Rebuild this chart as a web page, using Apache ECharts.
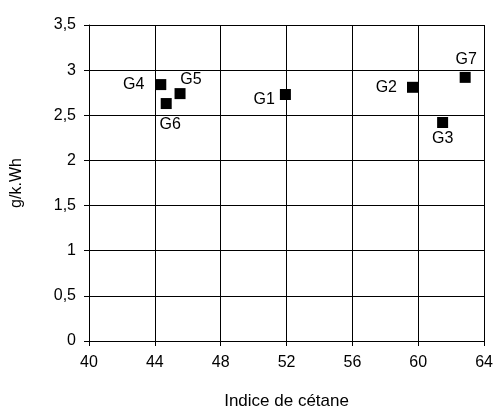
<!DOCTYPE html>
<html>
<head>
<meta charset="utf-8">
<script src="https://cdn.jsdelivr.net/npm/echarts@6/dist/echarts.min.js"></script>
<style>html,body{margin:0;padding:0;background:#fff}#c{width:496px;height:415px}</style>
</head>
<body>
<div id="c"></div>
<script>
var names = ['G1','G2','G3','G4','G5','G6','G7'];
var cetane = [51.93, 59.65, 61.48, 44.36, 45.53, 44.69, 62.85];
var emission = [2.73, 2.81, 2.42, 2.84, 2.74, 2.63, 2.92];
var xTicks = {min: 40, max: 64, interval: 4};
var yTicks = {min: 0, max: 3.5, interval: 0.5};

var labelPlacement = {
  G1: {position: 'left', distance: 5, offset: [0, 5]},
  G2: {position: 'left', distance: 10, offset: [0, 0]},
  G3: {position: 'bottom', distance: 3, offset: [0, 0]},
  G4: {position: 'left', distance: 11, offset: [0, 0]},
  G5: {position: 'top', distance: 1, offset: [11, 0]},
  G6: {position: 'bottom', distance: 8, offset: [4, 0]},
  G7: {position: 'top', distance: 4, offset: [1, 0]}
};

var data = names.map(function (n, i) {
  return {name: n, value: [cetane[i], emission[i]], label: labelPlacement[n]};
});

var font = 'Liberation Sans, Arial, Helvetica, sans-serif';
var chart = echarts.init(document.getElementById('c'), null, {renderer: 'canvas'});
chart.setOption({
  animation: false,
  backgroundColor: '#fff',
  grid: {left: 89, right: 11, top: 25, bottom: 71},
  xAxis: {
    type: 'value', min: xTicks.min, max: xTicks.max, interval: xTicks.interval,
    name: 'Indice de cétane', nameLocation: 'middle', nameGap: 52,
    nameTextStyle: {color: '#000', fontFamily: font, fontSize: 17},
    axisLine: {show: true, onZero: false, lineStyle: {color: '#000', width: 1}},
    axisTick: {show: true, inside: false, length: 5, lineStyle: {color: '#000', width: 1}},
    axisLabel: {color: '#000', fontFamily: font, fontSize: 16, margin: 14},
    splitLine: {show: true, lineStyle: {color: '#000', width: 1}}
  },
  yAxis: {
    type: 'value', min: yTicks.min, max: yTicks.max, interval: yTicks.interval,
    name: 'g/k.Wh', nameLocation: 'middle', nameGap: 64, nameRotate: 90,
    nameTextStyle: {color: '#000', fontFamily: font, fontSize: 16},
    axisLine: {show: true, onZero: false, lineStyle: {color: '#000', width: 1}},
    axisTick: {show: true, inside: false, length: 5, lineStyle: {color: '#000', width: 1}},
    axisLabel: {color: '#000', fontFamily: font, fontSize: 16, margin: 13,
      formatter: function (v) { return String(v).replace('.', ','); }},
    splitLine: {show: true, lineStyle: {color: '#000', width: 1}}
  },
  series: [{
    type: 'scatter',
    symbol: 'rect',
    symbolSize: 11,
    itemStyle: {color: '#000', opacity: 1},
    label: {show: true, formatter: '{b}', color: '#000', fontFamily: font, fontSize: 16},
    data: data
  }]
});
</script>
</body>
</html>
